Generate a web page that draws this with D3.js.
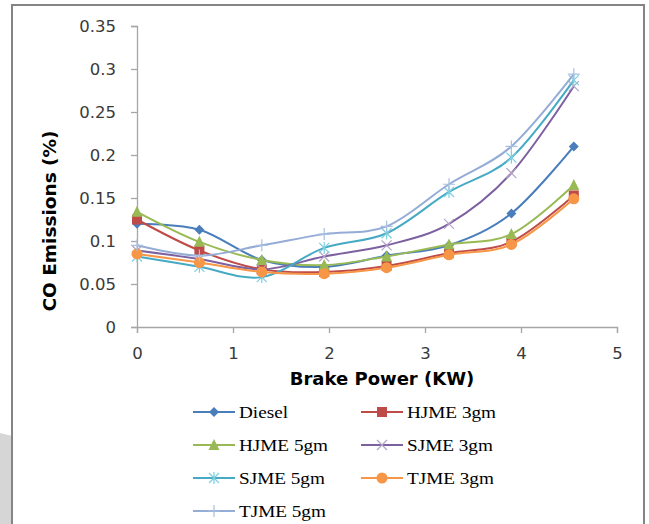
<!DOCTYPE html>
<html>
<head>
<meta charset="utf-8">
<script src="https://cdn.jsdelivr.net/npm/d3@7"></script>
<style>
  body { margin: 0; background: #fff; }
  svg { display: block; }
</style>
</head>
<body>
<div id="chart"></div>
<script>
// data
const brakePower = [0, 0.65, 1.3, 1.95, 2.6, 3.25, 3.9, 4.55];
const seriesNames = ["Diesel", "HJME 3gm", "HJME 5gm", "SJME 3gm", "SJME 5gm", "TJME 3gm", "TJME 5gm"];
const diesel  = [0.120, 0.113, 0.078, 0.070, 0.083, 0.095, 0.132, 0.210];
const hjme3   = [0.125, 0.089, 0.067, 0.064, 0.071, 0.086, 0.099, 0.153];
const hjme5   = [0.134, 0.099, 0.078, 0.072, 0.082, 0.096, 0.108, 0.165];
const sjme3   = [0.089, 0.079, 0.067, 0.082, 0.095, 0.120, 0.179, 0.280];
const sjme5   = [0.082, 0.070, 0.058, 0.092, 0.109, 0.157, 0.197, 0.287];
const tjme3   = [0.085, 0.075, 0.064, 0.062, 0.069, 0.084, 0.096, 0.149];
const tjme5   = [0.095, 0.083, 0.095, 0.108, 0.117, 0.166, 0.210, 0.294];
const xTicks = [0, 1, 2, 3, 4, 5];
const yTicks = [0, 0.05, 0.1, 0.15, 0.2, 0.25, 0.3, 0.35];

const seriesValues = [diesel, hjme3, hjme5, sjme3, sjme5, tjme3, tjme5];
const colors = ["#4a7ebb", "#be4b48", "#98b954", "#7d60a0", "#46aac5", "#f79646", "#94acd6"];
const markers = ["diamond", "square", "triangle", "x", "asterisk", "circle", "plus"];

const W = 649, H = 524;
const margin = {top: 26, left: 137, right: 32, bottom: 197};
const width = W - margin.left - margin.right,
      height = H - margin.top - margin.bottom;

const svg = d3.select("#chart").append("svg")
    .attr("width", W)
    .attr("height", H);

// grey shadow shape at bottom-left
svg.append("path")
    .attr("d", "M0,433 L12,436 L12,524 L0,524 Z")
    .attr("fill", "#d6d6d6");

// outer frame
svg.append("rect")
    .attr("x", 12).attr("y", 5)
    .attr("width", 632).attr("height", 530)
    .attr("fill", "none")
    .attr("stroke", "#858585")
    .attr("stroke-width", 2);

const g = svg.append("g")
    .attr("transform", `translate(${margin.left},${margin.top})`);

const x = d3.scaleLinear().domain([0, 5]).range([0, width]);
const y = d3.scaleLinear().domain([0, 0.35]).range([height, 0]);

// axes
const xAxis = g.append("g")
    .attr("transform", `translate(0,${height})`)
    .call(d3.axisBottom(x).tickValues(xTicks).tickSize(6).tickPadding(14).tickFormat(d3.format("d")));
const yAxis = g.append("g")
    .call(d3.axisLeft(y).tickValues(yTicks).tickSize(6).tickPadding(15).tickFormat(d => d === 0 ? "0" : String(+d.toFixed(2))));

[xAxis, yAxis].forEach(a => {
    a.select(".domain").attr("stroke", "#a6a6a6").attr("stroke-width", 1.3);
    a.selectAll(".tick line").attr("stroke", "#a6a6a6").attr("stroke-width", 1.3);
    a.selectAll(".tick text")
        .attr("fill", "#3a3a3a")
        .style("font-family", "'DejaVu Sans', sans-serif")
        .style("font-size", "16.5px");
});

// axis titles
g.append("text")
    .attr("x", 245)
    .attr("y", height + 58)
    .attr("text-anchor", "middle")
    .style("font-family", "'DejaVu Sans', sans-serif")
    .style("font-weight", "bold")
    .style("font-size", "18px")
    .text("Brake Power (KW)");

g.append("text")
    .attr("transform", `translate(${50 - margin.left},${221 - margin.top}) rotate(-90)`)
    .attr("text-anchor", "middle")
    .attr("dy", "0.35em")
    .style("font-family", "'DejaVu Sans', sans-serif")
    .style("font-weight", "bold")
    .style("font-size", "18.5px")
    .text("CO Emissions  (%)");

// marker drawing
function drawMarker(sel, type, color) {
    const s = 5;
    if (type === "diamond") {
        sel.append("path").attr("d", `M0,${-s}L${s},0L0,${s}L${-s},0Z`).attr("fill", color);
    } else if (type === "square") {
        sel.append("rect").attr("x", -s).attr("y", -s).attr("width", 2 * s).attr("height", 2 * s).attr("fill", color);
    } else if (type === "triangle") {
        sel.append("path").attr("d", `M0,${-s - 1}L${s + 0.5},${s}L${-s - 0.5},${s}Z`).attr("fill", color);
    } else if (type === "circle") {
        sel.append("circle").attr("r", s + 0.5).attr("fill", color);
    } else if (type === "x") {
        sel.append("path").attr("d", `M${-s},${-s}L${s},${s}M${-s},${s}L${s},${-s}`)
            .attr("stroke", "#b3a2c7").attr("stroke-width", 1.2);
    } else if (type === "asterisk") {
        sel.append("path").attr("d", `M${-s},${-s}L${s},${s}M${-s},${s}L${s},${-s}M0,${-s - 1}L0,${s + 1}`)
            .attr("stroke", "#7ccfe0").attr("stroke-width", 1.2);
    } else if (type === "plus") {
        sel.append("path").attr("d", `M${-s - 1},0L${s + 1},0M0,${-s - 1}L0,${s + 1}`)
            .attr("stroke", "#a9bfe0").attr("stroke-width", 1.2);
    }
}

const line = d3.line()
    .x(d => x(d.x))
    .y(d => y(d.y))
    .curve(d3.curveCardinal.tension(0));

seriesNames.forEach((name, i) => {
    const pts = brakePower.map((bp, j) => ({x: bp, y: seriesValues[i][j]}));
    g.append("path")
        .datum(pts)
        .attr("fill", "none")
        .attr("stroke", colors[i])
        .attr("stroke-width", 2)
        .attr("d", line);
    g.append("g").selectAll("g")
        .data(pts)
        .join("g")
        .attr("transform", d => `translate(${x(d.x)},${y(d.y)})`)
        .each(function() { drawMarker(d3.select(this), markers[i], colors[i]); });
});

// legend (text is horizontally stretched like in the original)
const legend = svg.append("g");
seriesNames.forEach((name, i) => {
    const col = i % 2, row = Math.floor(i / 2);
    const lx = col === 0 ? 193 : 361;
    const ly = 412 + row * 33;
    const item = legend.append("g").attr("transform", `translate(${lx},${ly})`);
    item.append("line")
        .attr("x1", 0).attr("x2", 42)
        .attr("stroke", colors[i]).attr("stroke-width", 2);
    drawMarker(item.append("g").attr("transform", "translate(21,0)"), markers[i], colors[i]);
    item.append("text")
        .attr("transform", "translate(46,0) scale(1.2,1)")
        .attr("dy", "0.35em")
        .style("font-family", "'Liberation Serif', 'Times New Roman', serif")
        .style("font-size", "16px")
        .text(name);
});
</script>
</body>
</html>
